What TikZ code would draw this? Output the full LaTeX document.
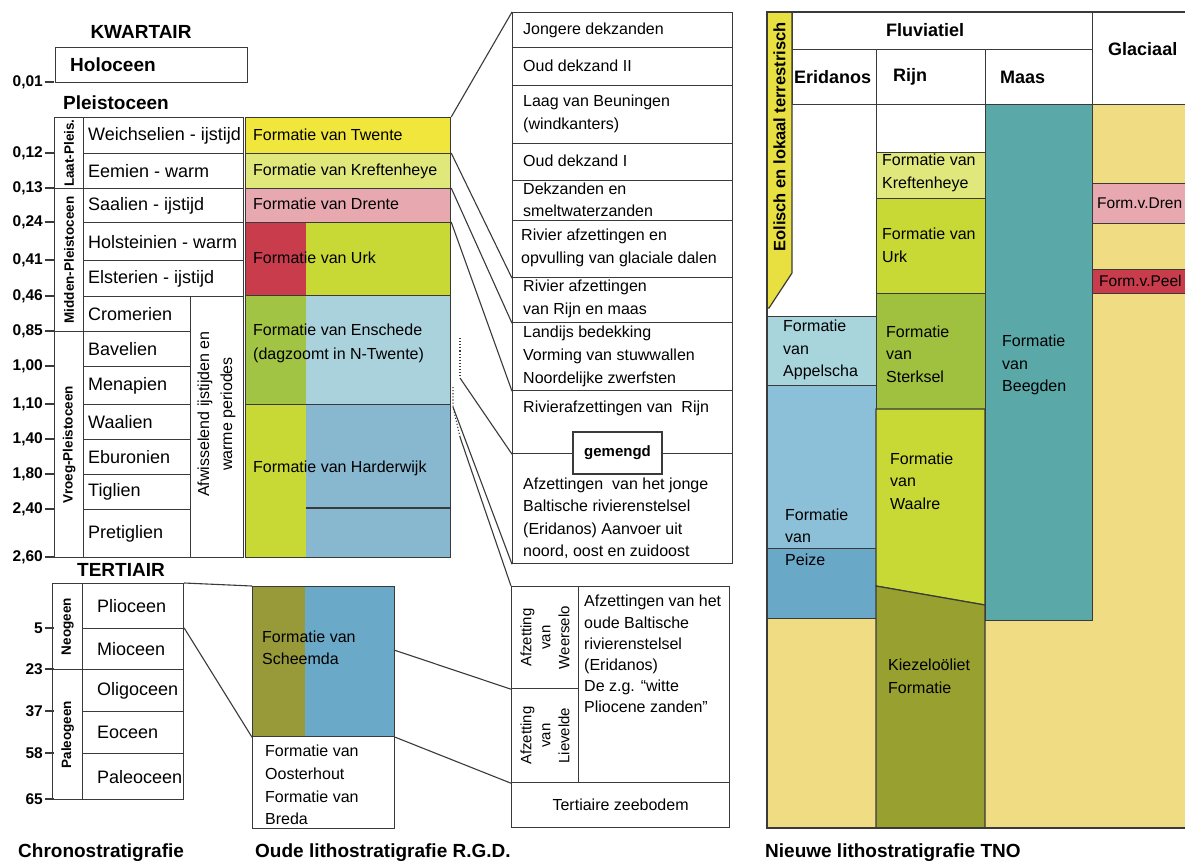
\documentclass[tikz,border=0pt]{standalone}
\usepackage{fontspec}
\setmainfont{Liberation Sans}
\usetikzlibrary{positioning}
\definecolor{lijn}{HTML}{3A3A3A}
\definecolor{twente}{HTML}{F0E63C}
\definecolor{kreft}{HTML}{E0E87C}
\definecolor{drente}{HTML}{E8A8B0}
\definecolor{urkrood}{HTML}{C83C4C}
\definecolor{urkgeel}{HTML}{C8D834}
\definecolor{enschgroen}{HTML}{A2C444}
\definecolor{enschblauw}{HTML}{AAD2DC}
\definecolor{hardblauw}{HTML}{88B8D0}
\definecolor{scheemolijf}{HTML}{989A3A}
\definecolor{scheemblauw}{HTML}{6AAAC8}
\definecolor{tnogeel}{HTML}{F0DC82}
\definecolor{eolgeel}{HTML}{E8E040}
\definecolor{beegden}{HTML}{5AA8A8}
\definecolor{appelscha}{HTML}{A8D4DC}
\definecolor{eriblauw}{HTML}{8CC0D8}
\definecolor{peize}{HTML}{6AA8C8}
\definecolor{kiezel}{HTML}{98A030}
\definecolor{sterksel}{HTML}{A0C040}
\tikzset{
  vak/.style 2 args={
    draw=lijn,
    line width=1.2pt,
    anchor=north west,
    inner sep=0pt,
    minimum width=#1,
    minimum height=#2
  },
  tekst/.style={
    anchor=west,
    align=left,
    inner sep=0pt,
    font=\fontsize{16}{22.5}\selectfont
  },
  tijd/.style={
    anchor=west,
    inner sep=0pt,
    font=\fontsize{18}{21}\selectfont
  },
  kop/.style={
    inner sep=0pt,
    font=\bfseries\fontsize{19}{22}\selectfont
  },
  tnokop/.style={
    inner sep=0pt,
    font=\bfseries\fontsize{18}{21}\selectfont
  },
  maat/.style={
    anchor=east,
    inner sep=0pt,
    font=\bfseries\fontsize{15.5}{18}\selectfont
  },
  groep/.style={
    rotate=90,
    inner sep=0pt,
    font=\bfseries\fontsize{13.5}{16}\selectfont
  },
  staand/.style={
    rotate=90,
    inner sep=0pt,
    align=center,
    font=\fontsize{15}{19}\selectfont
  },
  verbind/.style={
    draw=lijn,
    line width=1.1pt
  },
  stip/.style={
    draw=lijn,
    line width=1.1pt,
    dotted
  }
}

\begin{document}
\begin{tikzpicture}[x=1pt, y=-1pt]
\path[use as bounding box, fill=white] (0,0) rectangle (1185,863);
\clip (0,0) rectangle (1185,863);

% chronostratigrafie
\node[kop] (kwartair) at (141,32) {KWARTAIR};
\node[vak={192}{35}] (holoceen) at (55,47) {};
\node[kop, anchor=west] (holotxt) at (70,65) {Holoceen};
\node[kop] (pleisto) at (116,103) {Pleistoceen};
\node[kop] (tertiair) at (121,570) {TERTIAIR};

\foreach \y/\t in {82/{0,01},153/{0,12},188/{0,13},222/{0,24},260/{0,41},296/{0,46},331/{0,85},366/{1,00},404/{1,10},439/{1,40},474/{1,80},509/{2,40},557/{2,60},628/5,669/23,711/37,753/58,799/65}
{
  \draw[lijn, line width=1.2pt] (45,\y) -- (54,\y);
  \node[maat] (maat\y) at (43,\y) {\t};
}

\node[vak={29}{71}] (laat) at (54,117) {};
\node[groep] (laattxt) at (laat.center) {Laat-Pleis.};
\node[vak={29}{143}] (midden) at (54,188) {};
\node[groep] (middentxt) at (midden.center) {Midden-Pleistoceen};
\node[vak={29}{226}] (vroeg) at (54,331) {};
\node[groep] (vroegtxt) at (vroeg.center) {Vroeg-Pleistoceen};

\foreach \a/\h/\t [count=\i] in {117/36/{Weichselien - ijstijd},153/35/{Eemien - warm},188/34/{Saalien - ijstijd},222/38/{Holsteinien - warm},260/36/{Elsterien - ijstijd}}
{
  \node[vak={160}{\h}] (etage\i) at (83,\a) {};
  \node[tijd] (etagetxt\i) at ([xshift=5pt]etage\i.west) {\t};
}
\foreach \a/\h/\t [count=\i from 6] in {296/35/Cromerien,331/35/Bavelien,366/38/Menapien,404/35/Waalien,439/35/Eburonien,474/35/Tiglien,509/48/Pretiglien}
{
  \node[vak={107}{\h}] (etage\i) at (83,\a) {};
  \node[tijd] (etagetxt\i) at ([xshift=5pt]etage\i.west) {\t};
}
\node[vak={53}{261}] (afw) at (190,296) {};
\node[staand, font=\fontsize{16}{23}\selectfont] (afwtxt) at (216.5,414) {Afwisselend ijstijden en\\warme periodes};

\node[vak={30}{86}] (neogeen) at (52,583) {};
\node[groep] (neogeentxt) at (neogeen.center) {Neogeen};
\node[vak={30}{130}] (paleogeen) at (52,669) {};
\node[groep] (paleogeentxt) at (paleogeen.center) {Paleogeen};
\foreach \a/\h/\t [count=\i] in {583/45/Plioceen,628/41/Mioceen,669/42/Oligoceen,711/42/Eoceen,753/46/Paleoceen}
{
  \node[vak={101}{\h}] (epoch\i) at (82,\a) {};
  \node[tijd] (epochtxt\i) at ([xshift=15pt]epoch\i.west) {\t};
}

% oude lithostratigrafie
\node[vak={205}{36}, fill=twente] (twente) at (245,117) {};
\node[tekst] (twentetxt) at (253,135) {Formatie van Twente};
\node[vak={205}{35}, fill=kreft] (kreft) at (245,153) {};
\node[tekst] (krefttxt) at (253,171) {Formatie van Kreftenheye};
\node[vak={205}{34}, fill=drente] (drente) at (245,188) {};
\node[tekst] (drentetxt) at (253,204) {Formatie van Drente};
\fill[urkrood] (245,222) rectangle (306,295);
\fill[urkgeel] (306,222) rectangle (450,295);
\node[vak={205}{73}] (urk) at (245,222) {};
\node[tekst] (urktxt) at (253,258) {Formatie van Urk};
\fill[enschgroen] (245,295) rectangle (306,404);
\fill[enschblauw] (306,295) rectangle (450,404);
\node[vak={205}{109}] (enschede) at (245,295) {};
\node[tekst, font=\fontsize{16}{24}\selectfont] (enschedetxt) at (253,343) {Formatie van Enschede\\(dagzoomt in N-Twente)};
\fill[urkgeel] (245,404) rectangle (306,557);
\fill[hardblauw] (306,404) rectangle (450,557);
\node[vak={205}{153}] (harderwijk) at (245,404) {};
\draw[lijn, line width=1.2pt] (306,508) -- (450,508);
\node[tekst] (harderwijktxt) at (253,468) {Formatie van Harderwijk};

\fill[scheemolijf] (252,586) rectangle (305,736);
\fill[scheemblauw] (305,586) rectangle (394,736);
\node[vak={142}{150}] (scheemda) at (252,586) {};
\node[tekst] (scheemdatxt) at (262,648) {Formatie van\\Scheemda};
\node[vak={142}{92}] (oosterhout) at (252,736) {};
\node[tekst, font=\fontsize{16}{22.7}\selectfont] (oosterhouttxt) at (265,785) {Formatie van\\Oosterhout\\Formatie van\\Breda};

\node[vak={220}{35}] (r1) at (512,12) {};
\node[tekst] (r1txt) at (523,30) {Jongere dekzanden};
\node[vak={220}{38}] (r2) at (512,47) {};
\node[tekst] (r2txt) at (523,66) {Oud dekzand II};
\node[vak={220}{58}] (r3) at (512,85) {};
\node[tekst] (r3txt) at (523,114) {Laag van Beuningen\\(windkanters)};
\node[vak={220}{37}] (r4) at (512,143) {};
\node[tekst] (r4txt) at (523,161) {Oud dekzand I};
\node[vak={220}{40}] (r5) at (512,180) {};
\node[tekst] (r5txt) at (523,200) {Dekzanden en\\smeltwaterzanden};
\node[vak={220}{57}] (r6) at (512,220) {};
\node[tekst] (r6txt) at (521,248) {Rivier afzettingen en\\opvulling van glaciale dalen};
\node[vak={220}{45}] (r7) at (512,277) {};
\node[tekst] (r7txt) at (523,299) {Rivier afzettingen\\van Rijn en maas};
\node[vak={220}{68}] (r8) at (512,322) {};
\node[tekst, font=\fontsize{16}{23}\selectfont] (r8txt) at (523,356) {Landijs bedekking\\Vorming van stuwwallen\\Noordelijke zwerfsten};
\node[vak={220}{63}] (r9) at (512,390) {};
\node[tekst] (r9txt) at (523,408) {Rivierafzettingen van\ \ Rijn};
\node[vak={220}{110}] (r10) at (512,453) {};
\node[tekst] (r10txt) at (523,518) {Afzettingen\ \ van het jonge\\Baltische rivierenstelsel\\(Eridanos) Aanvoer uit\\noord, oost en zuidoost};
\node[vak={89}{42}, anchor=center, fill=white, font=\bfseries\fontsize{15}{18}\selectfont] (gemengd) at (617.5,453) {gemengd};

\node[vak={67}{102}] (weerselo) at (511,586) {};
\node[staand] (weerselotxt) at (weerselo.center) {Afzetting\\van\\Weerselo};
\node[vak={67}{94}] (lievelde) at (511,688) {};
\node[staand] (lievelaetxt) at (lievelde.center) {Afzetting\\van\\Lievelde};
\node[vak={151}{196}] (baltisch) at (578,586) {};
\node[tekst, anchor=north west, font=\fontsize{16}{21.2}\selectfont] (baltischtxt) at (584,595) {Afzettingen van het\\oude Baltische\\rivierenstelsel\\(Eridanos)\\De z.g. “witte\\Pliocene zanden”};
\node[vak={218}{45}, font=\fontsize{16}{19}\selectfont] (zeebodem) at (511,782) {Tertiaire zeebodem};

% verbindingen
\draw[verbind] (twente.north east) -- (r1.north west);
\draw[verbind] (kreft.north east) -- (r6.south west);
\draw[verbind] (drente.north east) -- (r7.south west);
\draw[verbind] (urk.north east) -- (r8.south west);
\coordinate (stip1a) at (460,338);
\coordinate (stip1b) at (460,378);
\draw[stip] (stip1a) -- (stip1b);
\draw[verbind] (stip1b) -- (r9.south west);
\coordinate (stip2a) at (453,387);
\coordinate (stip2b) at (453,407);
\coordinate (stip2c) at (460,437);
\draw[stip] (stip2a) -- (stip2b) -- (stip2c);
\draw[verbind] (stip2b) -- (r10.south west);
\draw[verbind] (stip2c) -- (weerselo.north west);
\draw[verbind] (epoch1.north east) -- (scheemda.north west);
\draw[verbind] (epoch2.north east) -- (scheemda.south west);
\coordinate (scheemdarand) at (394,650);
\draw[verbind] (scheemdarand) -- (weerselo.south west);
\draw[verbind] (scheemda.south east) -- (lievelde.south west);

% nieuwe lithostratigrafie
\fill[tnogeel] (985,104) rectangle (1200,828);
\node[vak={109}{212}, fill=white] (eriwit) at (767,104) {};
\node[vak={109}{69}, fill=appelscha] (appelscha) at (767,316) {};
\node[vak={109}{163}, fill=eriblauw] (eridanos) at (767,385) {};
\node[vak={109}{70}, fill=peize] (peize) at (767,548) {};
\node[vak={109}{210}, fill=tnogeel] (erigeel) at (767,618) {};
\node[vak={109}{48}, fill=white] (rijnwit) at (876,104) {};
\node[vak={109}{46}, fill=kreft] (rkreft) at (876,152) {};
\node[vak={109}{95}, fill=urkgeel] (rurk) at (876,198) {};
\node[vak={109}{116}, fill=sterksel] (rsterksel) at (876,293) {};
\draw[lijn, line width=1.2pt, fill=urkgeel] (876,409) -- (985,409) -- (985,605) -- (876,586) -- cycle;
\draw[lijn, line width=1.2pt, fill=kiezel] (876,586) -- (985,605) -- (985,828) -- (876,828) -- cycle;
\node[vak={107}{516}, fill=beegden] (beegden) at (985,104) {};
\node[vak={108}{40}, fill=drente] (gdrente) at (1092,183) {};
\node[vak={108}{24}, fill=urkrood] (gpeelo) at (1092,269) {};

\node[vak={300}{37}, fill=white] (fluviatiel) at (792,12) {};
\node[vak={84}{55}, fill=white] (heri) at (792,49) {};
\node[vak={109}{55}, fill=white] (hrijn) at (876,49) {};
\node[vak={107}{55}, fill=white] (hmaas) at (985,49) {};
\node[vak={108}{92}, fill=white] (hglaciaal) at (1092,12) {};
\draw[lijn, line width=1.2pt, fill=eolgeel] (767,12) -- (792,12) -- (792,273) -- (769,308) -- (767,308) -- cycle;
\draw[lijn, line width=1.2pt] (767,12) rectangle (1200,828);

\node[tnokop] (fluviatieltxt) at (925,30) {Fluviatiel};
\node[tnokop, anchor=west] (heritxt) at (794,77) {Eridanos};
\node[tnokop, anchor=west] (hrijntxt) at (893,77) {Rijn};
\node[tnokop, anchor=west] (hmaastxt) at (1000,77) {Maas};
\node[tnokop, anchor=west] (hglaciaaltxt) at (1108,49) {Glaciaal};
\node[groep, font=\bfseries\fontsize{16.5}{19}\selectfont] (eolisch) at (779.5,137) {Eolisch en lokaal terrestrisch};

\node[tekst, font=\fontsize{16}{23}\selectfont] (rkrefttxt) at (882,172.5) {Formatie van\\Kreftenheye};
\node[tekst, font=\fontsize{16}{23}\selectfont] (rurktxt) at (882,245) {Formatie van\\Urk};
\node[tekst] (rsterkseltxt) at (886,354) {Formatie\\van\\Sterksel};
\node[tekst] (waalretxt) at (890,481) {Formatie\\van\\Waalre};
\node[tekst, font=\fontsize{16}{23}\selectfont] (kiezeltxt) at (888,676) {Kiezeloöliet\\Formatie};
\node[tekst] (appelschatxt) at (783,350) {Formatie\\van\\Appelscha};
\node[tekst] (peizetxt) at (785,537) {Formatie\\van\\Peize};
\node[tekst] (beegdentxt) at (1002,365) {Formatie\\van\\Beegden};
\node[tekst, font=\fontsize{15.5}{18}\selectfont] (gdrentetxt) at (1097,203) {Form.v.Dren};
\node[tekst, font=\fontsize{15.5}{18}\selectfont] (gpeelotxt) at (1099,281) {Form.v.Peel};

% onderschriften
\node[kop, anchor=west] (chronotxt) at (18,853) {Chronostratigrafie};
\node[kop, anchor=west] (oudtxt) at (255,853) {Oude lithostratigrafie R.G.D.};
\node[kop, anchor=west] (nieuwtxt) at (765,853) {Nieuwe lithostratigrafie TNO};
\end{tikzpicture}
\end{document}
